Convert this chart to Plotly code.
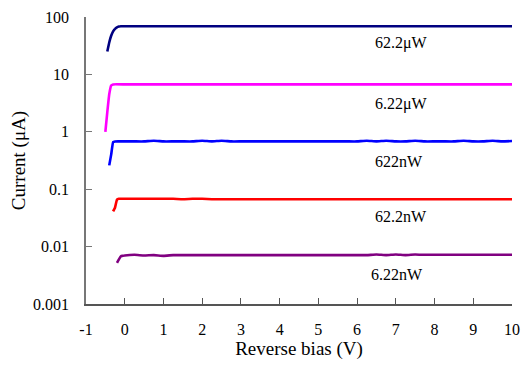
import plotly.graph_objects as go

# Shared flat-region bias grid (V)
x_flat = [0, 0.25, 0.5, 0.75, 1, 1.25, 1.5, 1.75, 2, 2.25, 2.5, 2.75, 3, 3.25, 3.5,
          3.75, 4, 4.25, 4.5, 4.75, 5, 5.25, 5.5, 5.75, 6, 6.25, 6.5, 6.75, 7,
          7.25, 7.5, 7.75, 8, 8.25, 8.5, 8.75, 9, 9.25, 9.5, 9.75, 10]

# 62.2 uW
x_622uW_start = [-0.45, -0.4, -0.35, -0.3, -0.25, -0.2, -0.15, -0.1]
y_622uW_start = [25, 36, 47, 56, 62, 66, 68, 69]
y_622uW_flat = [69] * 41

# 6.22 uW
x_622uW6_start = [-0.5, -0.45, -0.4, -0.35, -0.3]
y_622uW6_start = [1.0, 2.2, 4.5, 6.4, 6.7]
y_622uW6_flat = [6.7] * 41

# 622 nW
x_622nW_start = [-0.4, -0.35, -0.3, -0.25]
y_622nW_start = [0.26, 0.4, 0.66, 0.68]
y_622nW_flat = [0.68, 0.68, 0.68, 0.7, 0.68, 0.68, 0.68, 0.68, 0.7, 0.68, 0.7, 0.68,
                0.68, 0.68, 0.68, 0.68, 0.68, 0.68, 0.68, 0.68, 0.68, 0.68, 0.68, 0.68,
                0.68, 0.7, 0.68, 0.7, 0.68, 0.68, 0.7, 0.68, 0.68, 0.68, 0.68, 0.7,
                0.68, 0.68, 0.7, 0.68, 0.69]

# 62.2 nW
x_622nW2_start = [-0.3, -0.25, -0.2, -0.15]
y_622nW2_start = [0.041, 0.048, 0.066, 0.068]
y_622nW2_flat = [0.068, 0.068, 0.068, 0.068, 0.068, 0.068, 0.067, 0.068, 0.068, 0.067,
                 0.067, 0.067, 0.067, 0.067, 0.067, 0.067, 0.067, 0.067, 0.067, 0.067,
                 0.067, 0.067, 0.067, 0.067, 0.067, 0.067, 0.067, 0.067, 0.067, 0.067,
                 0.067, 0.067, 0.067, 0.067, 0.067, 0.067, 0.067, 0.067, 0.067, 0.067,
                 0.067]

# 6.22 nW
x_622nW3_start = [-0.2, -0.15, -0.1, -0.05]
y_622nW3_start = [0.0052, 0.006, 0.0068, 0.0069]
y_622nW3_flat = [0.0070, 0.0072, 0.0070, 0.0071, 0.0069, 0.0071, 0.0071, 0.0071, 0.0071,
                 0.0071, 0.0071, 0.0071, 0.0071, 0.0071, 0.0071, 0.0071, 0.0071, 0.0071,
                 0.0071, 0.0071, 0.0071, 0.0071, 0.0071, 0.0071, 0.0071, 0.0071, 0.0073,
                 0.0071, 0.0073, 0.0071, 0.0073, 0.0072, 0.0072, 0.0072, 0.0072, 0.0072,
                 0.0072, 0.0072, 0.0072, 0.0072, 0.0072]

series = [
    ("62.2\u03bcW", "#000080", x_622uW_start, y_622uW_start, y_622uW_flat),
    ("6.22\u03bcW", "#ff00ff", x_622uW6_start, y_622uW6_start, y_622uW6_flat),
    ("622nW", "#0000ff", x_622nW_start, y_622nW_start, y_622nW_flat),
    ("62.2nW", "#ff0000", x_622nW2_start, y_622nW2_start, y_622nW2_flat),
    ("6.22nW", "#800080", x_622nW3_start, y_622nW3_start, y_622nW3_flat),
]

# Tick labels
x_tickvals = [-1, 0, 1, 2, 3, 4, 5, 6, 7, 8, 9, 10]
x_ticktext = ["-1", "0", "1", "2", "3", "4", "5", "6", "7", "8", "9", "10"]
y_tickvals = [0.001, 0.01, 0.1, 1, 10, 100]
y_ticktext = ["0.001", "0.01", "0.1", "1", "10", "100"]

# Label positions (x in V, y as log10 of current)
label_x = [6.41, 6.41, 6.41, 6.41, 6.3]
label_y = [1.55, 0.48, -0.52, -1.48, -2.48]

fig = go.Figure()
for name, color, xs, ys, yf in series:
    fig.add_trace(go.Scatter(x=xs + x_flat, y=ys + yf, mode="lines", name=name,
                             line=dict(color=color, width=2.6, shape="spline", smoothing=0.3)))

for (name, *_), lx, ly in zip(series, label_x, label_y):
    fig.add_annotation(x=lx, y=ly, yref="y", xref="x", text=name, showarrow=False,
                       font=dict(size=16, color="#000"), xanchor="left", yanchor="middle")

fig.update_layout(
    width=515, height=353,
    margin=dict(l=78, r=11, t=9, b=57),
    paper_bgcolor="white", plot_bgcolor="white",
    showlegend=False,
    font=dict(family="Liberation Serif, Times New Roman, serif", color="#000", size=16),
)
fig.update_xaxes(range=[-1, 10], tickmode="array", tickvals=x_tickvals, ticktext=x_ticktext,
                 ticks="inside", ticklen=6, tickcolor="#555", showgrid=False, zeroline=False,
                 showline=True, linecolor="#555", linewidth=1.5, ticklabelstandoff=10,
                 automargin=False, ticklabeloverflow="allow",
                 title=dict(text="Reverse bias (V)", font=dict(size=19), standoff=2))
fig.update_yaxes(type="log", range=[-3, 2], tickmode="array",
                 tickvals=y_tickvals, ticktext=y_ticktext,
                 ticks="inside", ticklen=6, tickcolor="#777", showgrid=False, zeroline=False,
                 showline=True, linecolor="#777", linewidth=1.5, ticklabelstandoff=12,
                 automargin=False, ticklabeloverflow="allow",
                 title=dict(text="Current (\u03bcA)", font=dict(size=19), standoff=8))

fig.write_html("out.html")
